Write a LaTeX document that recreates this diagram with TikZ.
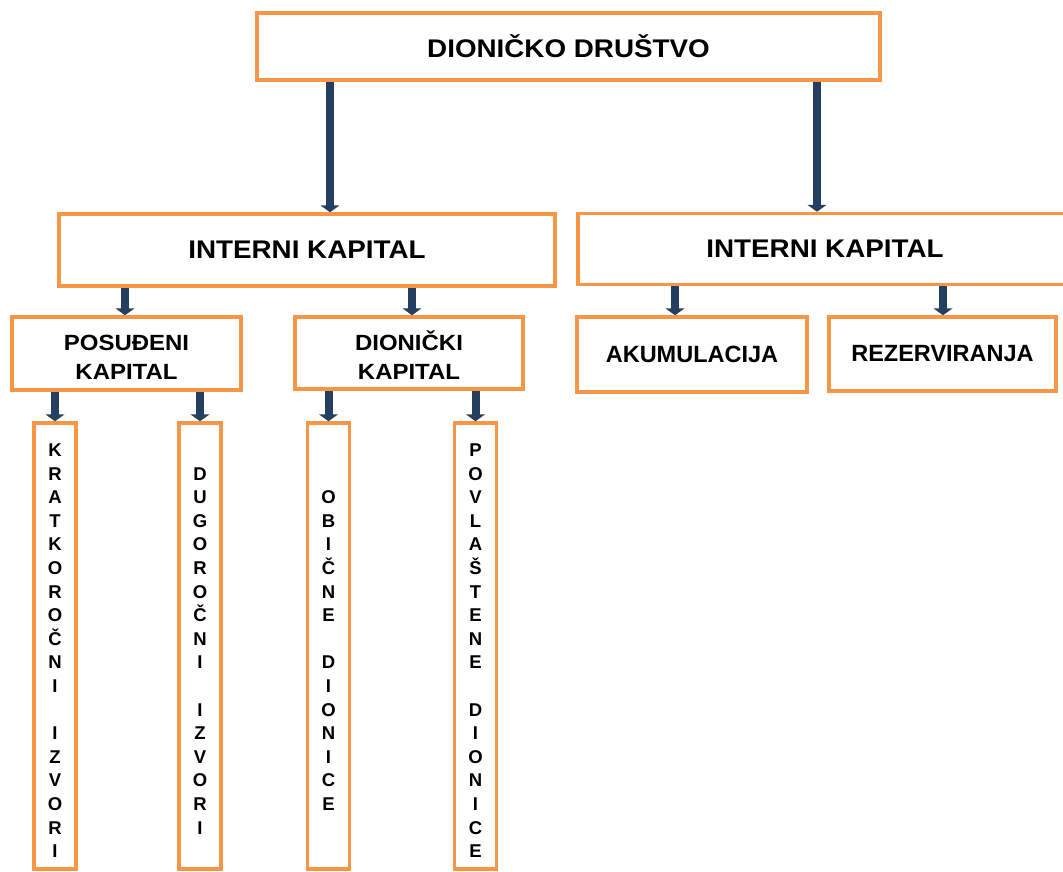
\documentclass[tikz,border=0pt]{standalone}
\usepackage{fontspec}
\setmainfont{Liberation Sans}
\usetikzlibrary{arrows.meta}
\newfontfamily\hfont{Liberation Sans Bold}[FakeStretch=1.09]
\newfontfamily\nfont{Liberation Sans Bold}
\definecolor{boxorange}{HTML}{F79646}
\definecolor{arrowblue}{HTML}{243F60}
\tikzset{
  obox/.style={draw=boxorange, line width=3.5pt, fill=white, inner sep=0pt, text=black, align=center},
  bigtxt/.style={font=\hfont\fontsize{25.5}{30}\selectfont},
  midtxt/.style={font=\hfont\fontsize{22}{29}\selectfont},
  plaintxt/.style={font=\nfont\fontsize{23.5}{28}\selectfont},
  vbox/.style={obox, minimum width=42pt, minimum height=446pt, font=\nfont\fontsize{18.5}{23.6}\selectfont},
  arr/.style={draw=arrowblue, line width=8pt, -{Triangle[width=19pt,length=7pt]}}
}
\newcommand{\fl}{\rule{0pt}{22pt}}
\newcommand{\ml}{\rule{0pt}{23pt}}
\begin{document}
\begin{tikzpicture}[x=1pt,y=-1pt]
\useasboundingbox[fill=white] (0,0) rectangle (1063,871);
% top level
\node[obox, bigtxt, minimum width=623pt, minimum height=67pt] (top) at (568.5,46.5) {DIONIČKO DRUŠTVO};
% second level
\node[obox, bigtxt, minimum width=496pt, minimum height=72pt] (ik1) at (307,250) {INTERNI KAPITAL};
\node[obox, minimum width=497pt, minimum height=71pt] (ik2) at (826.5,249) {};
\node[bigtxt, inner sep=0pt] (ik2t) at (825,249) {INTERNI KAPITAL};
% third level
\node[obox, midtxt, minimum width=229pt, minimum height=73pt] (pos) at (126.5,353.5) {\ml POSUĐENI\\KAPITAL};
\node[obox, midtxt, minimum width=228pt, minimum height=72pt] (dio) at (409,353) {\ml DIONIČKI\\KAPITAL};
\node[obox, plaintxt, minimum width=230pt, minimum height=75pt] (akum) at (692,354.5) {AKUMULACIJA};
\node[obox, plaintxt, minimum width=227pt, minimum height=74pt] (rez) at (942.5,354) {REZERVIRANJA};
% vertical boxes
\node[vbox] (v1) at (55,646) {\fl K\\R\\A\\T\\K\\O\\R\\O\\Č\\N\\I\\\phantom{I}\\I\\Z\\V\\O\\R\\I};
\node[vbox] (v2) at (200,646) {\fl D\\U\\G\\O\\R\\O\\Č\\N\\I\\\phantom{I}\\I\\Z\\V\\O\\R\\I};
\node[vbox] (v3) at (328.5,646) {\fl O\\B\\I\\Č\\N\\E\\\phantom{I}\\D\\I\\O\\N\\I\\C\\E};
\node[vbox] (v4) at (475.5,646) {\fl P\\O\\V\\L\\A\\Š\\T\\E\\N\\E\\\phantom{I}\\D\\I\\O\\N\\I\\C\\E};
% arrows
\draw[arr] (330,0 |- top.south) -- (330,0 |- ik1.north);
\draw[arr] (817,0 |- top.south) -- (817,0 |- ik2.north);
\draw[arr] (125,0 |- ik1.south) -- (125,0 |- pos.north);
\draw[arr] (412,0 |- ik1.south) -- (412,0 |- dio.north);
\draw[arr] (675,0 |- ik2.south) -- (675,0 |- akum.north);
\draw[arr] (943,0 |- ik2.south) -- (943,0 |- rez.north);
\draw[arr] (v1 |- pos.south) -- (v1.north);
\draw[arr] (v2 |- pos.south) -- (v2.north);
\draw[arr] (v3 |- dio.south) -- (v3.north);
\draw[arr] (v4 |- dio.south) -- (v4.north);
\end{tikzpicture}
\end{document}
